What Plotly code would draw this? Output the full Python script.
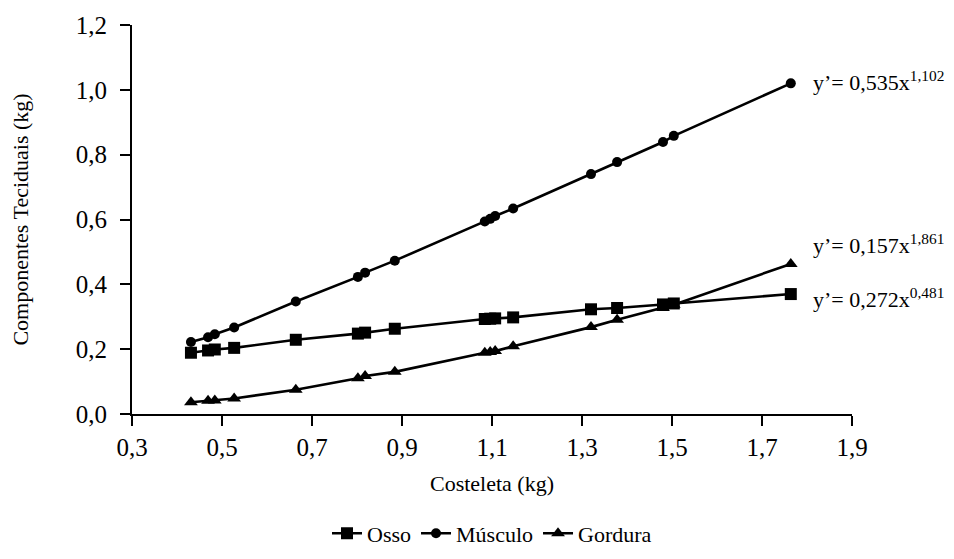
import plotly.graph_objects as go

costeleta = [0.431, 0.469, 0.484, 0.527, 0.664, 0.802, 0.818, 0.884, 1.084, 1.096,
             1.107, 1.147, 1.320, 1.378, 1.480, 1.504, 1.764]
osso = [0.189, 0.196, 0.199, 0.204, 0.229, 0.248, 0.251, 0.263, 0.293, 0.294,
        0.295, 0.298, 0.323, 0.327, 0.338, 0.341, 0.370]
musculo = [0.222, 0.237, 0.246, 0.267, 0.347, 0.423, 0.436, 0.473, 0.594, 0.602,
           0.611, 0.634, 0.740, 0.777, 0.839, 0.858, 1.020]
gordura = [0.036, 0.041, 0.042, 0.048, 0.075, 0.110, 0.117, 0.130, 0.189, 0.191,
           0.194, 0.209, 0.268, 0.291, 0.327, 0.337, 0.463]

series_names = ["Osso", "Músculo", "Gordura"]
equations = ["y’= 0,272x<sup>0,481</sup>", "y’= 0,535x<sup>1,102</sup>", "y’= 0,157x<sup>1,861</sup>"]
x_ticks = [0.3, 0.5, 0.7, 0.9, 1.1, 1.3, 1.5, 1.7, 1.9]
y_ticks = [0.0, 0.2, 0.4, 0.6, 0.8, 1.0, 1.2]

FONT = "Liberation Serif"

fig = go.Figure()
styles = [("square", 12), ("circle", 10), ("triangle-up", 12)]
for name, ys, (sym, sz) in zip(series_names, [osso, musculo, gordura], styles):
    fig.add_trace(go.Scatter(
        x=costeleta, y=ys, name=name, mode="lines+markers",
        line=dict(color="black", width=2.6),
        marker=dict(symbol=sym, size=sz, color="black"),
    ))

# equation labels next to last points
eq_shift = [-4, 2, 20]
for eq, ys, dy in zip(equations, [osso, musculo, gordura], eq_shift):
    fig.add_annotation(x=costeleta[-1], y=ys[-1], xref="x", yref="y", text=eq,
                       showarrow=False, xanchor="left", xshift=20, yshift=dy,
                       font=dict(family=FONT, size=22, color="black"))

fig.update_layout(
    width=954, height=559,
    margin=dict(l=124, r=110, t=17, b=138),
    paper_bgcolor="white", plot_bgcolor="white",
    separators=",.",
    font=dict(family=FONT, size=22, color="black"),
    showlegend=True,
    legend=dict(orientation="h", x=0.5, xanchor="center", y=-0.307, yanchor="middle",
                font=dict(family=FONT, size=22), itemwidth=30, tracegroupgap=0,
                bgcolor="rgba(0,0,0,0)"),
)
fig.update_xaxes(
    range=[0.3, 1.9], tickvals=x_ticks, tickformat=".1f",
    showline=True, linecolor="black", linewidth=2, mirror=False,
    ticks="outside", ticklen=10, tickwidth=1.5, tickcolor="black",
    showgrid=False, zeroline=False, automargin=False,
    title=dict(text="Costeleta (kg)", standoff=16, font=dict(family=FONT, size=22)),
    tickfont=dict(family=FONT, size=25),
)
fig.update_yaxes(
    range=[0, 1.2], tickvals=y_ticks, tickformat=".1f",
    showline=True, linecolor="black", linewidth=2, mirror=False,
    ticks="outside", ticklen=10, tickwidth=1.5, tickcolor="black",
    ticklabelstandoff=8,
    showgrid=False, zeroline=False, automargin=False,
    title=dict(text="Componentes Teciduais (kg)", standoff=44, font=dict(family=FONT, size=22)),
    tickfont=dict(family=FONT, size=25),
)

fig.write_html("out.html")
